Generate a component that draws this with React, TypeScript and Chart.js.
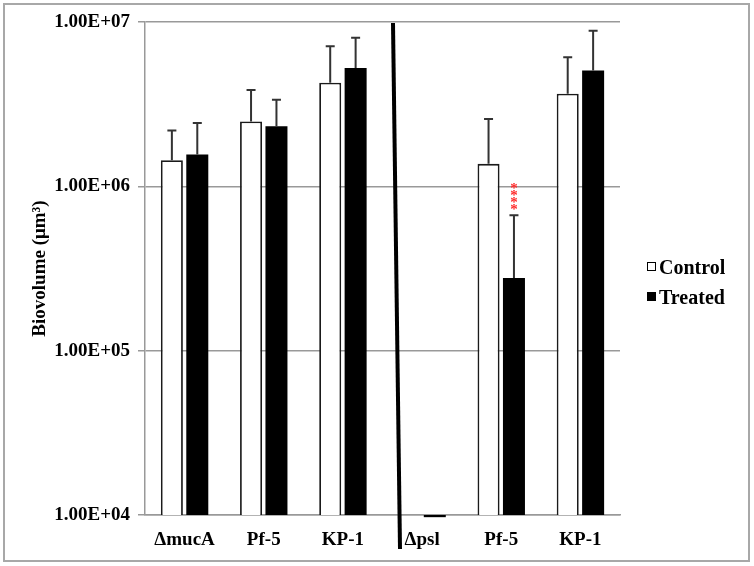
import React, { useEffect, useRef } from "react";
import { Chart, registerables } from "chart.js";

Chart.register(...registerables);

const categories = ["\u0394mucA", "Pf-5", "KP-1", "\u0394psl", "Pf-5", "KP-1"];
const controlValues = [1.44e6, 2.48e6, 4.27e6, null, 1.37e6, 3.66e6];
const controlErrTop = [2.19e6, 3.85e6, 7.13e6, null, 2.57e6, 6.11e6];
const treatedValues = [1.56e6, 2.32e6, 5.24e6, 9.7e3, 2.77e5, 5.07e6];
const treatedErrTop = [2.43e6, 3.37e6, 8.03e6, null, 6.67e5, 8.85e6];
const yTicks = [1e4, 1e5, 1e6, 1e7];
const tickLabels = ["1.00E+04", "1.00E+05", "1.00E+06", "1.00E+07"];
const sigIndex = 4;
const sigMarks = ["*", "*", "*", "*"];

const FONT = "'Liberation Serif', 'Times New Roman', serif";

export default function App() {
  const ref = useRef<HTMLCanvasElement | null>(null);

  useEffect(() => {
    const canvas = ref.current;
    if (!canvas) return;
    const errTops = [controlErrTop, treatedErrTop];

    const framePlugin = {
      id: "frame",
      beforeDraw(chart: any) {
        const ctx = chart.ctx;
        ctx.save();
        ctx.fillStyle = "#ffffff";
        ctx.fillRect(0, 0, chart.width, chart.height);
        ctx.strokeStyle = "#a8a8a8";
        ctx.lineWidth = 2;
        ctx.strokeRect(4, 4, 745, 557);
        ctx.restore();
      },
    };

    const errorPlugin = {
      id: "errbars",
      afterDatasetsDraw(chart: any) {
        const ctx = chart.ctx;
        const y = chart.scales.y;
        ctx.save();
        ctx.strokeStyle = "#333333";
        ctx.lineWidth = 2;
        chart.data.datasets.forEach((ds: any, di: number) => {
          const meta = chart.getDatasetMeta(di);
          meta.data.forEach((bar: any, i: number) => {
            const top = errTops[di][i];
            if (top == null || ds.data[i] == null) return;
            const py = y.getPixelForValue(top);
            ctx.beginPath();
            ctx.moveTo(bar.x, bar.y);
            ctx.lineTo(bar.x, py);
            ctx.moveTo(bar.x - 4.5, py);
            ctx.lineTo(bar.x + 4.5, py);
            ctx.stroke();
          });
        });
        ctx.restore();
      },
    };

    const decorPlugin = {
      id: "decor",
      afterDraw(chart: any) {
        const ctx = chart.ctx;
        const x = chart.scales.x;
        const y = chart.scales.y;
        const area = chart.chartArea;
        ctx.save();
        // separator line
        const mid = x.getPixelForValue(2.5);
        ctx.strokeStyle = "#000000";
        ctx.lineWidth = 4;
        ctx.beginPath();
        ctx.moveTo(mid + 10.5, area.top + 1);
        ctx.lineTo(mid + 17.5, area.bottom + 34);
        ctx.stroke();
        // significance marks
        const bar = chart.getDatasetMeta(1).data[sigIndex];
        const errPy = y.getPixelForValue(treatedErrTop[sigIndex]);
        ctx.fillStyle = "#ff2a2a";
        ctx.font = `bold 15px ${FONT}`;
        ctx.textAlign = "center";
        ctx.textBaseline = "alphabetic";
        sigMarks.forEach((m, k) => {
          const cy = errPy - 9 - k * 7;
          ctx.fillText(m, bar.x, cy + 8);
        });
        // legend
        ctx.font = `bold 20px ${FONT}`;
        ctx.textAlign = "left";
        ctx.textBaseline = "alphabetic";
        chart.data.datasets.forEach((ds: any, di: number) => {
          const sy = 262 + di * 30;
          ctx.fillStyle = ds.backgroundColor;
          ctx.fillRect(647, sy, 9, 9);
          ctx.strokeStyle = "#000000";
          ctx.lineWidth = 1;
          ctx.strokeRect(647.5, sy + 0.5, 8, 8);
          ctx.fillStyle = "#000000";
          ctx.fillText(ds.label, 659, sy + 12);
        });
        ctx.restore();
      },
    };

    const chart = new Chart(canvas, {
      type: "bar",
      data: {
        labels: categories,
        datasets: [
          {
            label: "Control",
            data: controlValues as any,
            backgroundColor: "#ffffff",
            borderColor: "#1a1a1a",
            borderWidth: 1.8,
            categoryPercentage: 0.642,
            barPercentage: 0.866,
          },
          {
            label: "Treated",
            data: treatedValues as any,
            backgroundColor: "#000000",
            borderColor: "#000000",
            borderWidth: 0,
            categoryPercentage: 0.642,
            barPercentage: 0.866,
            clip: false as any,
          },
        ],
      },
      options: {
        animation: false,
        responsive: false,
        layout: { padding: { top: 22, right: 134, left: 0, bottom: 0 } },
        plugins: {
          legend: { display: false },
          tooltip: { enabled: false },
        },
        scales: {
          x: {
            type: "category",
            grid: { display: false, drawTicks: false },
            border: { display: true, color: "#999999", width: 1.5 },
            ticks: {
              color: "#000000",
              font: { family: FONT, size: 19, weight: "bold" },
              padding: 14,
              maxRotation: 0,
              autoSkip: false,
            },
            afterFit(scale: any) {
              scale.height = 51;
            },
          },
          y: {
            type: "logarithmic",
            min: 1e4,
            max: 1e7,
            afterBuildTicks(scale: any) {
              scale.ticks = yTicks.map((v) => ({ value: v }));
            },
            afterFit(scale: any) {
              scale.width = 145;
            },
            grid: {
              color: "#999999",
              lineWidth: 1.5,
              drawTicks: true,
              tickLength: 7,
            },
            border: { display: true, color: "#999999", width: 1.5 },
            ticks: {
              color: "#000000",
              font: { family: FONT, size: 19, weight: "bold" },
              padding: 8,
              callback: (v: any) => {
                const idx = yTicks.indexOf(Number(v));
                return idx >= 0 ? tickLabels[idx] : "";
              },
            },
            title: {
              display: true,
              text: "Biovolume (\u03bcm\u00b3)",
              color: "#000000",
              font: { family: FONT, size: 19, weight: "bold" },
              padding: { top: 29, bottom: 0 },
            },
          },
        },
      },
      plugins: [framePlugin, errorPlugin, decorPlugin],
    });

    return () => chart.destroy();
  }, []);

  return (
    <div style={{ position: "fixed", left: 0, top: 0, width: 754, height: 566, background: "#fff" }}>
      <canvas ref={ref} width={754} height={566} style={{ display: "block" }} />
    </div>
  );
}
